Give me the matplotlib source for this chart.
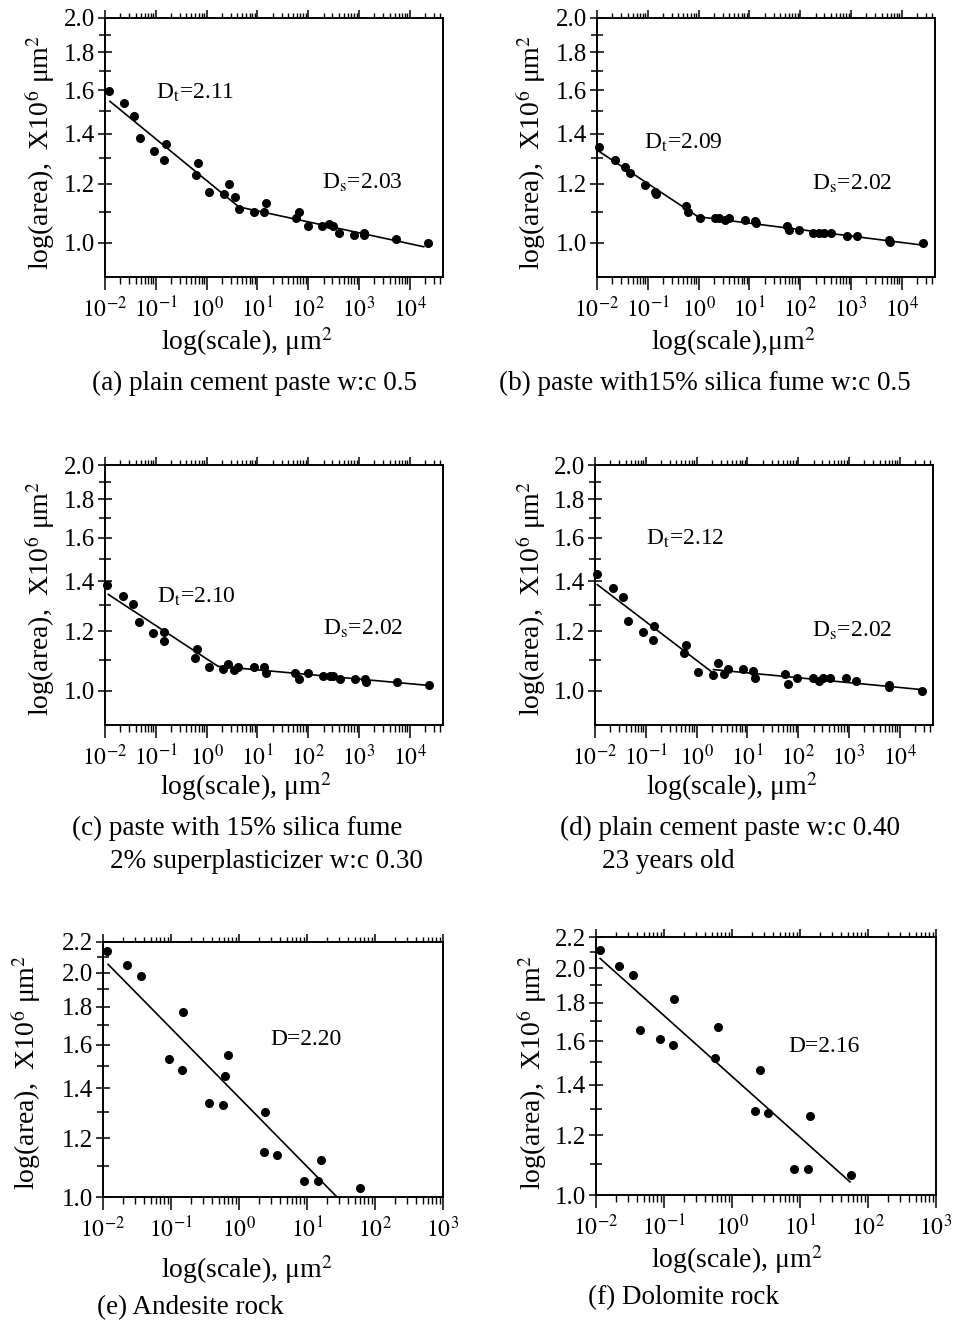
import numpy as np
import matplotlib
matplotlib.use("Agg")
import matplotlib.pyplot as plt
from matplotlib.ticker import FixedLocator, FixedFormatter, NullFormatter, LogLocator, FuncFormatter

plt.rcParams['font.family'] = 'Liberation Serif'
plt.rcParams['mathtext.fontset'] = 'stix'

W, H = 955, 1323

# ---- (a) plain cement paste w:c 0.5
a_x = [0.0122, 0.0239, 0.0376, 0.0485, 0.0927, 0.157, 0.146, 0.618, 0.687, 1.11,
       2.70, 2.25, 3.60, 4.31, 8.74, 13.7, 14.8, 57.3, 65.6, 98.4,
       191, 258, 309, 405, 809, 1254, 1280, 5240, 22500]
a_y = [1.596, 1.538, 1.477, 1.380, 1.329, 1.358, 1.290, 1.232, 1.280, 1.169,
       1.200, 1.161, 1.151, 1.110, 1.101, 1.101, 1.132, 1.081, 1.101, 1.053,
       1.053, 1.061, 1.053, 1.031, 1.023, 1.031, 1.023, 1.013, 1.000]
a_fit_x = [0.0125, 4.31, 18800]
a_fit_y = [1.547, 1.117, 0.988]

# ---- (b) paste with 15% silica fume w:c 0.5
b_x = [0.0111, 0.0224, 0.0349, 0.0453, 0.087, 0.138, 0.142, 0.569, 0.632, 1.08,
       2.08, 2.50, 3.28, 4.01, 8.20, 13.0, 13.6, 55.2, 59.6, 94,
       181, 235, 295, 401, 820, 1316, 5520, 5780, 26500]
b_y = [1.342, 1.292, 1.264, 1.242, 1.195, 1.171, 1.161, 1.119, 1.101, 1.081,
       1.081, 1.081, 1.072, 1.081, 1.072, 1.070, 1.062, 1.053, 1.041, 1.041,
       1.032, 1.032, 1.032, 1.032, 1.022, 1.022, 1.009, 1.002, 1.000]
b_fit_x = [0.0111, 0.97, 22800]
b_fit_y = [1.325, 1.084, 0.994]

# ---- (c) paste with 15% silica fume, 2% superplasticizer w:c 0.30
c_x = [0.0111, 0.023, 0.036, 0.0467, 0.0893, 0.147, 0.143, 0.598, 0.645, 1.11,
       2.13, 2.67, 3.50, 4.20, 8.53, 13.2, 14.5, 55.5, 66.5, 100,
       197, 267, 310, 419, 841, 1303, 1343, 5470, 23700]
c_y = [1.382, 1.336, 1.305, 1.234, 1.195, 1.196, 1.166, 1.106, 1.136, 1.076,
       1.068, 1.085, 1.065, 1.077, 1.077, 1.077, 1.057, 1.057, 1.036, 1.057,
       1.046, 1.046, 1.046, 1.036, 1.036, 1.036, 1.027, 1.027, 1.018]
c_fit_x = [0.0116, 1.67, 24700]
c_fit_y = [1.344, 1.078, 1.016]

# ---- (d) plain cement paste w:c 0.40, 23 years old
d_x = [0.0111, 0.0224, 0.0349, 0.0453, 0.087, 0.144, 0.140, 0.560, 0.632, 1.08,
       2.14, 2.61, 3.39, 4.13, 8.20, 13.0, 14.4, 55.2, 64.3, 94.2,
       193, 253, 304, 432, 859, 1355, 6040, 6040, 27300]
d_y = [1.432, 1.371, 1.332, 1.240, 1.198, 1.221, 1.170, 1.122, 1.150, 1.060,
       1.050, 1.090, 1.052, 1.070, 1.070, 1.061, 1.041, 1.052, 1.021, 1.041,
       1.041, 1.030, 1.041, 1.041, 1.041, 1.030, 1.019, 1.010, 1.000]
d_fit1_x = [0.0111, 1.93]
d_fit1_y = [1.385, 1.061]
d_fit2_x = [2.14, 28600]
d_fit2_y = [1.067, 1.003]

# ---- (e) Andesite rock
e_x = [0.0115, 0.0228, 0.0366, 0.152, 0.0935, 0.147, 0.681, 0.622, 0.366,
       0.582, 2.44, 2.33, 3.66, 8.93, 14.5, 15.9, 60.1]
e_y = [2.138, 2.047, 1.979, 1.772, 1.531, 1.480, 1.550, 1.452, 1.339,
       1.331, 1.299, 1.148, 1.139, 1.050, 1.050, 1.120, 1.029]
e_fit_x = [0.0119, 27.6]
e_fit_y = [2.053, 1.0]

# ---- (f) Dolomite rock
f_x = [0.0115, 0.022, 0.0346, 0.142, 0.0444, 0.0873, 0.137, 0.615, 0.569,
       2.55, 2.15, 3.38, 14.0, 8.17, 13.1, 56.2]
f_y = [2.113, 2.016, 1.957, 1.819, 1.658, 1.612, 1.581, 1.672, 1.522,
       1.463, 1.292, 1.283, 1.273, 1.083, 1.083, 1.063]
f_fit_x = [0.0115, 54.3]
f_fit_y = [2.060, 1.041]

paste_yticks = [1.0, 1.2, 1.4, 1.6, 1.8, 2.0]
paste_yminor = [1.1, 1.3, 1.5, 1.7, 1.9]
rock_yticks = [1.0, 1.2, 1.4, 1.6, 1.8, 2.0, 2.2]
rock_yminor = [1.1, 1.3, 1.5, 1.7, 1.9, 2.1]

ylabel = r'log(area),  X10$^6$ μm$^2$'
LABEL_FS = 20
CAPTION_FS = 19.5


def rect(left, top, right, bottom):
    return [left / W, 1 - bottom / H, (right - left) / W, (bottom - top) / H]


def put(fig, x, y, s, **kw):
    fig.text(x / W, 1 - y / H, s, **kw)


def panel(fig, box, xs, ys, fits, xlim, ylim, yticks, yminor, notes):
    ax = fig.add_axes(rect(*box))
    ax.set_xscale('log')
    ax.set_yscale('log')
    for fx, fy in fits:
        ax.plot(fx, fy, color='k', lw=1.2)
    ax.plot(xs, ys, 'o', color='k', ms=5.5, clip_on=False)
    ax.set_xlim(xlim)
    ax.set_ylim(ylim)

    ax.yaxis.set_major_locator(FixedLocator(yticks))
    ax.yaxis.set_major_formatter(FixedFormatter([f'{v:.1f}' for v in yticks]))
    ax.yaxis.set_minor_locator(FixedLocator(yminor))
    ax.yaxis.set_minor_formatter(NullFormatter())
    ax.xaxis.set_major_locator(LogLocator(base=10, numticks=20))
    ax.xaxis.set_minor_locator(LogLocator(base=10, subs=np.arange(2, 10), numticks=20))
    ax.xaxis.set_major_formatter(FuncFormatter(lambda v, p: r'$10^{%d}$' % round(np.log10(v))))
    ax.xaxis.set_minor_formatter(NullFormatter())

    ax.tick_params(axis='y', which='major', direction='inout', length=10, width=1.1,
                   labelsize=18, pad=2, right=False)
    ax.tick_params(axis='y', which='minor', direction='inout', length=8, width=1.1, right=False)
    ax.tick_params(axis='x', which='major', direction='out', length=9, width=1.1,
                   labelsize=17, pad=5, top=False)
    ax.tick_params(axis='x', which='minor', direction='out', length=5, width=1, top=False)
    for s in ax.spines.values():
        s.set_linewidth(1.2)

    # ticks along the top edge
    top = ax.twiny()
    top.set_xscale('log')
    top.set_xlim(xlim)
    top.xaxis.set_major_locator(LogLocator(base=10, numticks=20))
    top.xaxis.set_minor_locator(LogLocator(base=10, subs=np.arange(2, 10), numticks=20))
    top.tick_params(axis='x', which='major', direction='out', length=6, width=1.1, labeltop=False)
    top.tick_params(axis='x', which='minor', direction='out', length=3.5, width=1)
    for s in top.spines.values():
        s.set_linewidth(1.2)

    for x, y, s in notes:
        ax.text(x, y, s, fontsize=17, ha='left', va='center')
    return ax


fig = plt.figure(figsize=(W / 100, H / 100), dpi=100)

row_xlim = (1e-2, 4.5e4)
paste_ylim = (0.9, 2.0)
rock_xlim = (1e-2, 1e3)
rock_ylim = (1.0, 2.2)

panel(fig, (105, 18, 443, 277), a_x, a_y, [(a_fit_x, a_fit_y)], row_xlim, paste_ylim,
      paste_yticks, paste_yminor,
      [(0.103, 1.587, r'D$_\mathrm{t}$=2.11'), (190, 1.203, r'D$_\mathrm{s}$=2.03')])
panel(fig, (597, 18, 935, 277), b_x, b_y, [(b_fit_x, b_fit_y)], row_xlim, paste_ylim,
      paste_yticks, paste_yminor,
      [(0.0845, 1.362, r'D$_\mathrm{t}$=2.09'), (173, 1.199, r'D$_\mathrm{s}$=2.02')])
panel(fig, (105, 465, 443, 725), c_x, c_y, [(c_fit_x, c_fit_y)], row_xlim, paste_ylim,
      paste_yticks, paste_yminor,
      [(0.104, 1.333, r'D$_\mathrm{t}$=2.10'), (197, 1.209, r'D$_\mathrm{s}$=2.02')])
panel(fig, (595, 465, 933, 725), d_x, d_y, [(d_fit1_x, d_fit1_y), (d_fit2_x, d_fit2_y)],
      row_xlim, paste_ylim, paste_yticks, paste_yminor,
      [(0.1016, 1.593, r'D$_\mathrm{t}$=2.12'), (187, 1.201, r'D$_\mathrm{s}$=2.02')])
panel(fig, (103, 942, 443, 1197), e_x, e_y, [(e_fit_x, e_fit_y)], rock_xlim, rock_ylim,
      rock_yticks, rock_yminor, [(2.89, 1.627, 'D=2.20')])
panel(fig, (596, 937, 936, 1195), f_x, f_y, [(f_fit_x, f_fit_y)], rock_xlim, rock_ylim,
      rock_yticks, rock_yminor, [(6.73, 1.573, 'D=2.16')])

# axis titles
for x, y in [(40, 152), (531, 152), (40, 598), (531, 598), (26, 1072), (532, 1072)]:
    put(fig, x, y, ylabel, rotation=90, fontsize=LABEL_FS, ha='center', va='center')

put(fig, 247, 342, r'log(scale), μm$^2$', fontsize=LABEL_FS, ha='center', va='center')
put(fig, 733, 342, r'log(scale),μm$^2$', fontsize=LABEL_FS, ha='center', va='center')
put(fig, 246, 787, r'log(scale), μm$^2$', fontsize=LABEL_FS, ha='center', va='center')
put(fig, 732, 787, r'log(scale), μm$^2$', fontsize=LABEL_FS, ha='center', va='center')
put(fig, 247, 1270, r'log(scale), μm$^2$', fontsize=LABEL_FS, ha='center', va='center')
put(fig, 737, 1260, r'log(scale), μm$^2$', fontsize=LABEL_FS, ha='center', va='center')

# captions
put(fig, 254, 383, '(a) plain cement paste w:c 0.5', fontsize=CAPTION_FS, ha='center', va='center')
put(fig, 705, 383, '(b) paste with15% silica fume w:c 0.5', fontsize=CAPTION_FS, ha='center', va='center')
put(fig, 237, 828, '(c) paste with 15% silica fume', fontsize=CAPTION_FS, ha='center', va='center')
put(fig, 266, 862, '2% superplasticizer w:c 0.30', fontsize=CAPTION_FS, ha='center', va='center')
put(fig, 730, 828, '(d) plain cement paste w:c 0.40', fontsize=CAPTION_FS, ha='center', va='center')
put(fig, 602, 862, '23 years old', fontsize=CAPTION_FS, ha='left', va='center')
put(fig, 190, 1308, '(e) Andesite rock', fontsize=CAPTION_FS, ha='center', va='center')
put(fig, 684, 1298, '(f) Dolomite rock', fontsize=CAPTION_FS, ha='center', va='center')

fig.savefig('out.png', dpi=100)
